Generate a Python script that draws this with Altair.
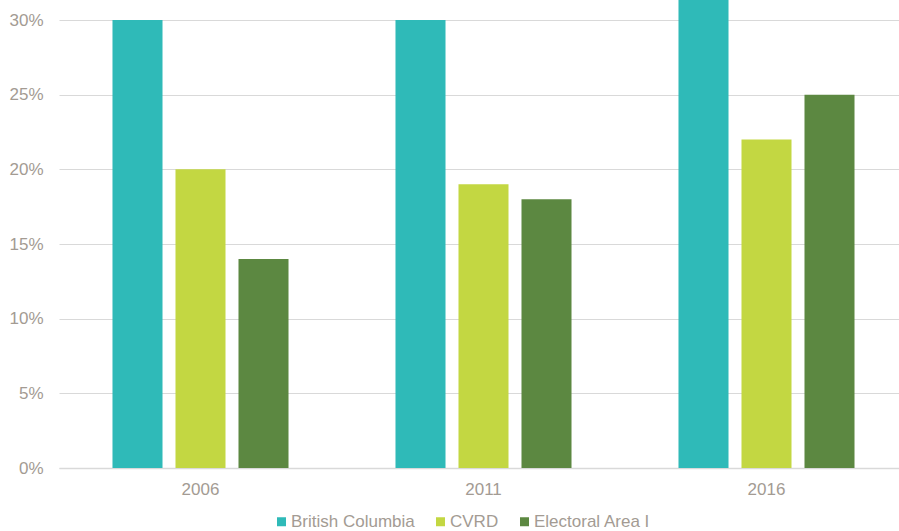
import altair as alt
import pandas as pd

years = ["2006", "2011", "2016"]
series = ["British Columbia", "CVRD", "Electoral Area I"]
bc = [0.30, 0.30, 0.32]
cvrd = [0.20, 0.19, 0.22]
area_i = [0.14, 0.18, 0.25]
colors = ["#2fbab8", "#c3d742", "#5c8841"]

rows = []
for s, vals in zip(series, [bc, cvrd, area_i]):
    for y, v in zip(years, vals):
        rows.append({"year": y, "series": s, "value": v})
df = pd.DataFrame(rows)

txt = "#a39b93"
grid = "#d9d9d9"
font = "Liberation Sans"

chart = alt.Chart(df).mark_bar(clip=True).encode(
    x=alt.X("year:N", sort=years, title=None,
            scale=alt.Scale(range=[0, 849], paddingInner=0.378, paddingOuter=0.189),
            axis=alt.Axis(labelAngle=0, labelFontSize=17, labelColor=txt, labelFont=font,
                          labelPadding=13, ticks=False, domain=True, domainColor=grid,
                          domainWidth=1.5, grid=False)),
    xOffset=alt.XOffset("series:N", sort=series,
                        scale=alt.Scale(paddingInner=0.206, paddingOuter=0)),
    y=alt.Y("value:Q", title=None,
            scale=alt.Scale(domain=[0, 0.3134], nice=False, zero=True),
            axis=alt.Axis(values=[0, 0.05, 0.10, 0.15, 0.20, 0.25, 0.30], format=".0%",
                          labelFontSize=17, labelColor=txt, labelFont=font,
                          labelPadding=16, ticks=False, domain=False,
                          gridColor=grid, gridWidth=1.2)),
    color=alt.Color("series:N", sort=series, title=None,
                    scale=alt.Scale(domain=series, range=colors),
                    legend=alt.Legend(orient="none", legendX=214, legendY=513,
                                      direction="horizontal", symbolType="square",
                                      symbolSize=81, symbolStrokeWidth=0,
                                      labelFontSize=17, labelColor=txt, labelFont=font,
                                      labelOffset=1, columnPadding=17)),
).properties(
    width=840, height=468,
    background="white",
    autosize=alt.AutoSizeParams(type="none"),
    padding={"left": 59, "top": 0, "right": 0, "bottom": 63},
).configure_view(stroke=None)

chart.save("out.html", embed_options={"renderer": "svg", "actions": False})
